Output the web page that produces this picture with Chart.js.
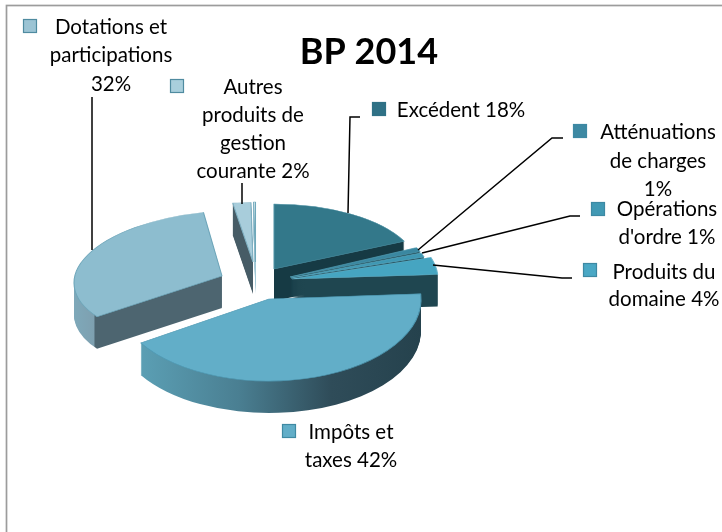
<!DOCTYPE html>
<html><head><meta charset="utf-8">
<style>html,body{margin:0;padding:0;background:#fff}#w{position:relative;width:722px;height:532px}canvas{display:block}</style>
<script src="https://cdn.jsdelivr.net/npm/chart.js@4"></script></head>
<body><div id="w"><canvas id="c" width="722" height="532"></canvas></div>
<script>
const titleText = 'BP 2014';
const categories = ['Excédent','Atténuations de charges','Opérations d\'ordre','Produits du domaine','Impôts et taxes','Dotations et participations','Autres produits de gestion courante',''];
const shareValues = [18,1,1,4,42,32,1.8,0.2];
const sliceColors = ['#33788a','#3a87a0','#3f98b3','#46a5c1','#62aec8','#8dbdcf','#a8cddb','#dcebf0'];
const edgeColors = ['#4f93a6','#4f9ab0','#59a7be','#6cb6cc','#4f9ab4','#6ea6ba','#7fb0c2','#6fa8ba'];

// projection of each exploded slice: apex position and affine axes
const projection = [
 {x:274,y:269,a:144,b:0,d:65},
 {x:290,y:277,a:140,b:0,d:69},
 {x:291,y:278,a:140,b:0,d:68},
 {x:292,y:279,a:146,b:0,d:70},
 {x:269,y:299,a:152,b:0,d:82},
 {x:222,y:276,a:148,b:-7,d:65},
 {x:253,y:262,a:162,b:0,d:59.5},
 {x:255.5,y:262,a:150,b:0,d:60}
];
const depth = 32;
const paintOrder = [6,7,0,5,1,2,3,4];

function wallFill(ctx,i){
  const stops = {
    0:[[0,'#163a44'],[1,'#163a44']],
    1:[[0,'#2f7186'],[.05,'#1f4650'],[1,'#1f4650']],
    2:[[0,'#3b8ba4'],[.05,'#1f4650'],[1,'#1f4650']],
    3:[[0,'#1f4650'],[1,'#1f4650']],
    4:[[0,'#5b9fb4'],[.35,'#4a7f92'],[.68,'#2f4c59'],[1,'#25424d']],
    5:[[0,'#7ea8b9'],[.13,'#7ea0b0'],[.135,'#4d6570'],[1,'#4d6570']],
    6:[[0,'#475c66'],[1,'#475c66']],
    7:[[0,'#9fc6d4'],[1,'#9fc6d4']]
  }[i];
  const p = projection[i];
  const range = i===5 ? [75,222] : i===4 ? [140,421] : [p.x-2,p.x+p.a];
  const g = ctx.createLinearGradient(range[0],0,range[1],0);
  stops.forEach(s=>g.addColorStop(s[0],s[1]));
  return g;
}

const labels = [
 {lines:['Dotations et','participations','32%'],cx:111,ys:[27,55,84],box:[23,19],col:'#9cc4d4',edge:'#4f8ba0'},
 {lines:['Autres','produits de','gestion','courante 2%'],cx:253,ys:[87,115,143,171],box:[170,79],col:'#a9cfdc',edge:'#4f8ba0'},
 {lines:['Excédent 18%'],cx:461,ys:[110],box:[372,102],col:'#2f7186',edge:'#2f7186'},
 {lines:['Atténuations','de charges','1%'],cx:658,ys:[132,161,189],box:[573,124],col:'#3d89a3',edge:'#3d89a3'},
 {lines:['Opérations','d\'ordre 1%'],cx:667,ys:[209,237],box:[591,202],col:'#4199b4',edge:'#3d89a3'},
 {lines:['Produits du','domaine 4%'],cx:664,ys:[272,299],box:[583,263],col:'#4aa8c5',edge:'#3d89a3'},
 {lines:['Impôts et','taxes 42%'],cx:351,ys:[432,460],box:[282,424],col:'#62aec8',edge:'#3f8aa3'}
];
const leaders = [
 [[92,97],[92,250]],
 [[242,183],[242,204]],
 [[360,117],[350,117],[348,213]],
 [[563,138],[552,138],[418,250]],
 [[580,216],[570,216],[422,253]],
 [[572,278],[562,278],[433,265]]
];

const pie3d = {
  id:'pie3d',
  beforeDraw(chart){
    const ctx = chart.ctx;
    ctx.save();
    ctx.fillStyle='#fff';ctx.fillRect(0,0,722,532);
    ctx.strokeStyle='#9c9c9c';ctx.lineWidth=1.7;
    ctx.strokeRect(6.5,5.5,760,560);
    ctx.restore();
  },
  beforeDatasetsDraw(chart){
    const ctx = chart.ctx, arcs = chart.getDatasetMeta(0).data;
    paintOrder.forEach(i=>{
      const arc = arcs[i], p = projection[i];
      const k = 1/arc.outerRadius;
      const place = dy => ctx.setTransform(p.a*k,p.b*k,0,p.d*k,p.x-(p.a*arc.x)*k,p.y+dy-(p.b*arc.x+p.d*arc.y)*k);
      const wall = wallFill(ctx,i);
      for(let dy=depth;dy>0;dy--){
        ctx.save();
        ctx.setTransform(1,0,0,1,0,0);
        ctx.beginPath();
        place(dy);
        ctx.arc(arc.x,arc.y,arc.outerRadius,arc.startAngle,arc.endAngle);
        ctx.lineTo(arc.x,arc.y);
        ctx.closePath();
        ctx.setTransform(1,0,0,1,0,0);
        ctx.fillStyle=wall;
        ctx.fill();
        ctx.restore();
      }
      ctx.save();
      place(0);
      arc.draw(ctx);
      ctx.restore();
    });
    return false;
  },
  afterDraw(chart){
    const ctx = chart.ctx;
    ctx.save();
    ctx.strokeStyle='#000';ctx.lineWidth=1.5;
    leaders.forEach(l=>{ctx.beginPath();l.forEach((q,n)=>n?ctx.lineTo(q[0],q[1]):ctx.moveTo(q[0],q[1]));ctx.stroke();});
    ctx.font='20.5px Lato';ctx.textAlign='center';ctx.textBaseline='middle';
    labels.forEach(l=>{
      ctx.fillStyle=l.col;ctx.strokeStyle=l.edge;ctx.lineWidth=1.2;
      ctx.fillRect(l.box[0]+.5,l.box[1]+.5,13,13);ctx.strokeRect(l.box[0]+.5,l.box[1]+.5,13,13);
      ctx.fillStyle='#000';
      l.lines.forEach((t,n)=>ctx.fillText(t,l.cx,l.ys[n]));
    });
    ctx.restore();
  }
};

new Chart(document.getElementById('c'),{
  type:'pie',
  data:{labels:categories,datasets:[{data:shareValues,backgroundColor:sliceColors,borderColor:edgeColors,borderWidth:1.6}]},
  options:{
    responsive:false,animation:false,
    layout:{padding:{top:31,left:16}},
    plugins:{
      legend:{display:false},tooltip:{enabled:false},
      title:{display:true,text:titleText,color:'#000',font:{family:'Lato',size:36,weight:'bold'},padding:{top:0,bottom:0},
        align:'center',position:'top',fullSize:true}
    }
  },
  plugins:[pie3d]
});
</script></body></html>
